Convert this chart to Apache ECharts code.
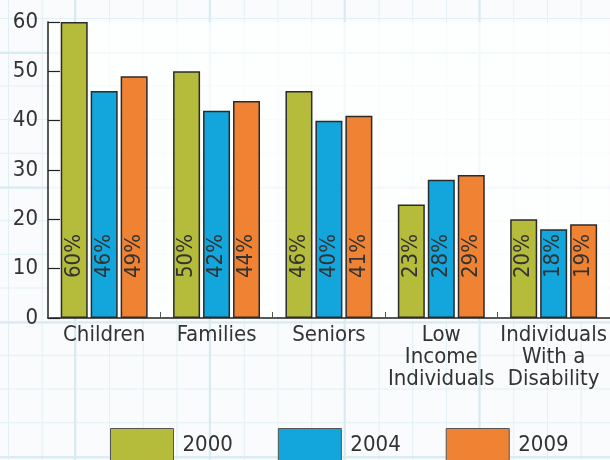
<!DOCTYPE html>
<html>
<head>
<meta charset="utf-8">
<script src="https://cdn.jsdelivr.net/npm/echarts@6/dist/echarts.min.js"></script>
<style>
html,body{margin:0;padding:0;}
#chart{
  width:610px;height:460px;
  background-color:#f9fbfc;
  background-image:
    linear-gradient(to right, #d8ebf2 2px, transparent 2px),
    linear-gradient(to bottom, #d8ebf2 2px, transparent 2px),
    linear-gradient(to right, #e2f0f5 1px, transparent 1px),
    linear-gradient(to bottom, #e2f0f5 1px, transparent 1px);
  background-size:134.8px 134.8px,134.8px 134.8px,33.7px 33.7px,33.7px 33.7px;
  background-position:74px 0,0 52px,8px 0,0 18px;
}
</style>
</head>
<body>
<div id="chart"></div>
<script>
var categories = ['Children', 'Families', 'Seniors', 'Low\nIncome\nIndividuals', 'Individuals\nWith a\nDisability'];
var seriesNames = ['2000', '2004', '2009'];
var values2000 = [60, 50, 46, 23, 20];
var values2004 = [46, 42, 40, 28, 18];
var values2009 = [49, 44, 41, 29, 19];
var yTicks = {min: 0, max: 60, interval: 10};

var FONT = '"Liberation Sans Narrow", "DejaVu Sans Condensed", "Roboto", sans-serif';
var colors = ['#b5bb3b', '#13a6dd', '#f08233'];
var allValues = [values2000, values2004, values2009];

var chart = echarts.init(document.getElementById('chart'));
chart.setOption({
  animation: false,
  textStyle: {fontFamily: FONT},
  grid: {
    left: 48, right: 0, top: 22, bottom: 142,
    show: true, backgroundColor: 'rgba(255,255,255,0.7)', borderWidth: 0
  },
  legend: {
    bottom: -8, left: 105,
    icon: 'rect',
    itemWidth: 63, itemHeight: 34, itemGap: 45,
    textStyle: {fontFamily: FONT, fontSize: 22, color: '#333', padding: [0, 0, 0, 4]},
    data: seriesNames.map(function (n, i) {
      return {name: n, itemStyle: {color: colors[i], borderColor: '#555', borderWidth: 1}};
    })
  },
  xAxis: {
    type: 'category',
    data: categories,
    axisLine: {lineStyle: {color: '#222', width: 1.5}},
    axisTick: {show: true, inside: true, length: 6, lineStyle: {color: '#555'}},
    axisLabel: {fontFamily: FONT, fontSize: 22, color: '#333', lineHeight: 22, margin: 6, interval: 0}
  },
  yAxis: {
    type: 'value',
    min: yTicks.min, max: yTicks.max, interval: yTicks.interval,
    splitLine: {show: false},
    axisLine: {show: true, lineStyle: {color: '#222', width: 1.5}},
    axisTick: {show: true, inside: true, length: 12, lineStyle: {color: '#222', width: 1.2}},
    axisLabel: {fontFamily: FONT, fontSize: 22, color: '#333', margin: 10}
  },
  series: seriesNames.map(function (n, i) {
    return {
      name: n,
      type: 'bar',
      data: allValues[i],
      barWidth: 27,
      barGap: '11%',
      itemStyle: {color: colors[i], borderColor: '#2b2b2b', borderWidth: 1.5},
      label: {
        show: true,
        position: 'insideBottom',
        rotate: 90,
        align: 'left',
        verticalAlign: 'middle',
        distance: 40,
        fontFamily: FONT,
        fontSize: 22,
        color: '#333',
        formatter: '{c}%'
      }
    };
  })
});
</script>
</body>
</html>
